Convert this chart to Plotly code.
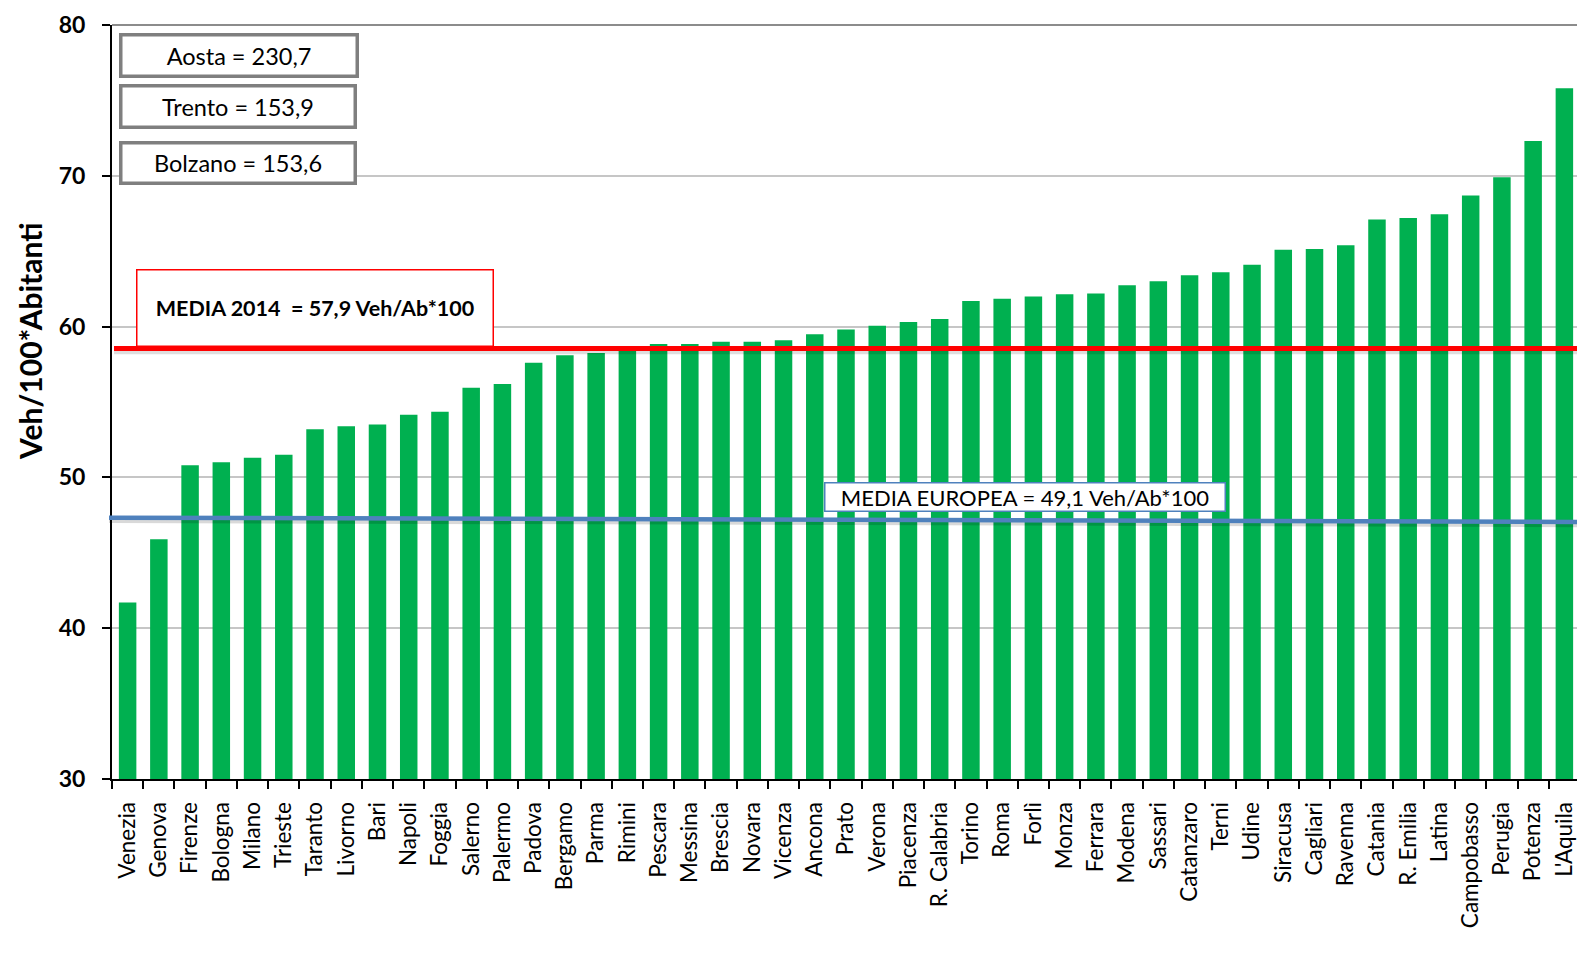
import plotly.graph_objects as go

cities = ["Venezia", "Genova", "Firenze", "Bologna", "Milano", "Trieste", "Taranto", "Livorno",
          "Bari", "Napoli", "Foggia", "Salerno", "Palermo", "Padova", "Bergamo", "Parma", "Rimini",
          "Pescara", "Messina", "Brescia", "Novara", "Vicenza", "Ancona", "Prato", "Verona",
          "Piacenza", "R. Calabria", "Torino", "Roma", "Forlì", "Monza", "Ferrara", "Modena",
          "Sassari", "Catanzaro", "Terni", "Udine", "Siracusa", "Cagliari", "Ravenna", "Catania",
          "R. Emilia", "Latina", "Campobasso", "Perugia", "Potenza", "L'Aquila"]
veh_per_100 = [41.7, 45.9, 50.8, 51.0, 51.3, 51.5, 53.2, 53.4,
               53.5, 54.15, 54.35, 55.95, 56.2, 57.6, 58.1, 58.25, 58.5,
               58.85, 58.85, 59.0, 59.0, 59.1, 59.5, 59.8, 60.05,
               60.3, 60.5, 61.7, 61.85, 62.0, 62.15, 62.2, 62.75,
               63.0, 63.4, 63.6, 64.1, 65.1, 65.15, 65.4, 67.1,
               67.2, 67.45, 68.7, 69.9, 72.3, 75.8]

y_ticks = [30, 40, 50, 60, 70, 80]
media_2014_line = 58.55
media_europea_line = [47.33, 47.05]
outlier_labels = ["Aosta = 230,7", "Trento = 153,9", "Bolzano = 153,6"]
media_2014_label = "MEDIA 2014  = 57,9 Veh/Ab*100"
media_europea_label = "MEDIA EUROPEA = 49,1 Veh/Ab*100"
y_title = "Veh/100*Abitanti"

# the page body has an 8px margin: draw in page coordinates minus this offset
OFF = 8
W, H = 1577, 946
L, R, T, B = 112 - OFF, 1580 - OFF, 25 - OFF, 779 - OFF
FONT = "Lato"


def px(x):
    return (x - OFF - L) / (R - L)


def py(y):
    return (B - (y - OFF)) / (B - T)


fig = go.Figure()
fig.add_trace(go.Bar(x=cities, y=veh_per_100, marker=dict(color="#00b050", line=dict(width=0)),
                     hoverinfo="x+y"))

shapes = []
shapes.append(dict(type="line", xref="paper", yref="y", x0=px(114), x1=1, y0=media_2014_line - 0.22,
                   y1=media_2014_line - 0.22, line=dict(color="rgba(0,0,0,0.13)", width=5)))
shapes.append(dict(type="line", xref="paper", yref="y", x0=px(109), x1=1, y0=media_europea_line[0] - 0.22,
                   y1=media_europea_line[1] - 0.22, line=dict(color="rgba(0,0,0,0.15)", width=4)))
shapes.append(dict(type="line", xref="paper", yref="y", x0=px(114), x1=1, y0=media_2014_line,
                   y1=media_2014_line, line=dict(color="#ff0000", width=5)))
shapes.append(dict(type="line", xref="paper", yref="y", x0=px(109), x1=1, y0=media_europea_line[0],
                   y1=media_europea_line[1], line=dict(color="#4f81bd", width=4.5)))
shapes.append(dict(type="line", xref="paper", yref="paper", x0=0, x1=1, y0=1, y1=1,
                   line=dict(color="#8c8c8c", width=2)))
shapes.append(dict(type="line", xref="paper", yref="paper", x0=1, x1=1, y0=0, y1=1,
                   line=dict(color="#8c8c8c", width=2)))

annotations = []
boxes = [(120, 357, 34, 76), (120, 355, 85, 127), (120, 355, 142, 183)]
for lab, (x0, x1, y0, y1) in zip(outlier_labels, boxes):
    annotations.append(dict(text=lab, xref="paper", yref="paper", x=px((x0 + x1) / 2), y=py((y0 + y1) / 2),
                            xanchor="center", yanchor="middle", showarrow=False,
                            width=x1 - x0 - 4, height=y1 - y0 - 4, borderpad=0, borderwidth=3.5,
                            bordercolor="#7f7f7f", bgcolor="white",
                            font=dict(family=FONT, size=23.5, color="black")))

annotations.append(dict(text="<b>" + media_2014_label + "</b>", xref="paper", yref="paper",
                        x=px((136 + 493) / 2), y=py((269 + 346) / 2), xanchor="center", yanchor="middle",
                        showarrow=False, width=493 - 136 - 2, height=346 - 269 - 2, borderpad=0,
                        borderwidth=1.5, bordercolor="#ff0000", bgcolor="white",
                        font=dict(family=FONT, size=21.5, color="black")))
annotations.append(dict(text=media_europea_label, xref="paper", yref="paper",
                        x=px((825 + 1226) / 2), y=py((483 + 512) / 2), xanchor="center", yanchor="middle",
                        showarrow=False, width=1226 - 825 - 2, height=512 - 483 - 2, borderpad=0,
                        borderwidth=1.5, bordercolor="#4f81bd", bgcolor="white",
                        font=dict(family=FONT, size=22, color="black")))
annotations.append(dict(text="<b>" + y_title + "</b>", xref="paper", yref="paper", x=px(30), y=py(341),
                        xanchor="center", yanchor="middle", textangle=-90, showarrow=False,
                        font=dict(family=FONT, size=30, color="black")))

fig.update_layout(
    width=W, height=H,
    margin=dict(l=L, r=W - R, t=T, b=H - B),
    paper_bgcolor="white", plot_bgcolor="white",
    showlegend=False, bargap=0.44,
    shapes=shapes, annotations=annotations,
    font=dict(family=FONT, color="black"),
)
fig.update_xaxes(range=[-0.5, len(cities) - 0.5], tickangle=-90, tickson="boundaries",
                 ticks="outside", ticklen=8, tickwidth=1.5, tickcolor="black",
                 showline=True, linecolor="black", linewidth=2, showgrid=False,
                 tickfont=dict(family=FONT, size=22.5, color="black"), ticklabelstandoff=12,
                 automargin=False, fixedrange=True)
fig.update_yaxes(range=[30, 80], tickvals=y_ticks, ticktext=[f"<b>{v}</b>" for v in y_ticks],
                 ticks="outside", ticklen=8, tickwidth=1.5, tickcolor="black",
                 showline=True, linecolor="black", linewidth=2,
                 showgrid=True, gridcolor="#c6c6c6", gridwidth=1.5, zeroline=False,
                 tickfont=dict(family=FONT, size=23, color="black"), ticklabelstandoff=12,
                 automargin=False, fixedrange=True)

fig.write_html("out.html")
